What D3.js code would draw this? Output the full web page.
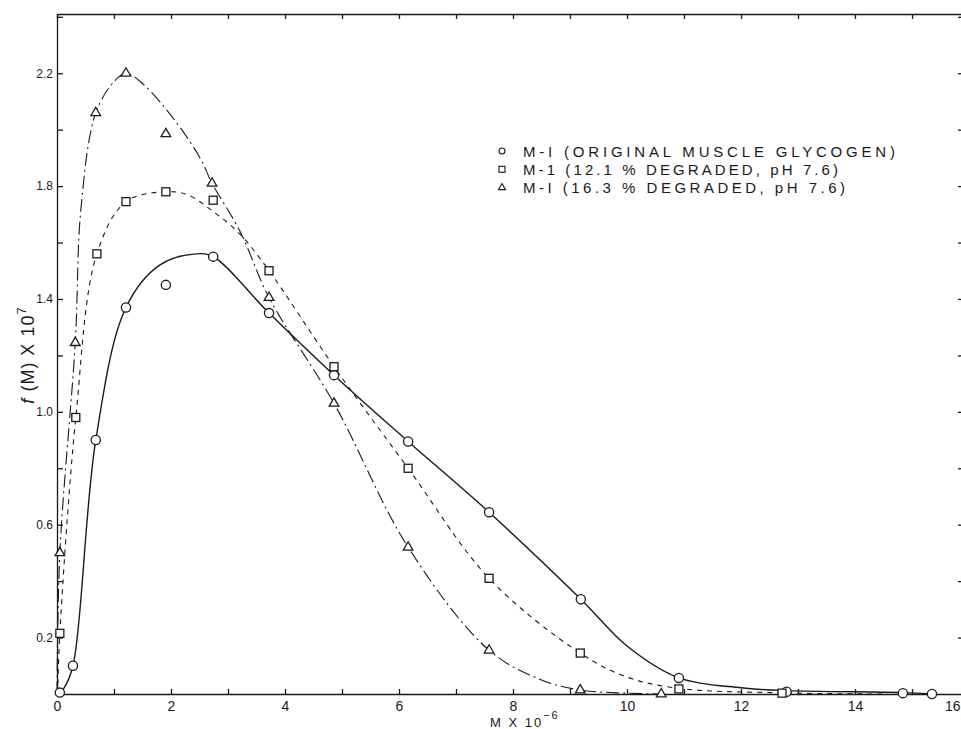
<!DOCTYPE html>
<html>
<head>
<meta charset="utf-8">
<script src="https://cdn.jsdelivr.net/npm/d3@7"></script>
<style>
  body { margin: 0; background: #fff; }
  text { font-family: 'Liberation Sans', 'DejaVu Sans', sans-serif; fill: #1a1a1a; }
</style>
</head>
<body>
<script>
// measured points, M x 10^-6 and f(M) x 10^7
const origM = [0.05, 0.28, 0.68, 1.21, 1.91, 2.74, 3.72, 4.86, 6.16, 7.58, 9.19, 10.91, 12.8, 14.84, 15.35]
const origF = [0.005, 0.10, 0.90, 1.37, 1.45, 1.55, 1.35, 1.13, 0.895, 0.644, 0.336, 0.057, 0.008, 0.003, 0.0]

const deg121M = [0.05, 0.33, 0.70, 1.21, 1.91, 2.74, 3.72, 4.86, 6.16, 7.58, 9.18, 10.91, 12.72]
const deg121F = [0.215, 0.98, 1.56, 1.745, 1.78, 1.75, 1.50, 1.16, 0.80, 0.41, 0.145, 0.018, 0.003]

const deg163M = [0.05, 0.32, 0.68, 1.21, 1.91, 2.72, 3.72, 4.86, 6.16, 7.58, 9.18, 10.6]
const deg163F = [0.50, 1.245, 2.06, 2.20, 1.985, 1.81, 1.405, 1.03, 0.52, 0.155, 0.014, 0.0]

// hand drawn curves
const origCurve = [[0.02, 0], [0.12, 0.02], [0.28, 0.10], [0.68, 0.90], [1.21, 1.37], [1.8, 1.52], [2.45, 1.56],
  [2.74, 1.55], [3.72, 1.35], [4.86, 1.13], [6.16, 0.895], [7.58, 0.644], [9.19, 0.336], [10.0, 0.17],
  [10.91, 0.057], [12.0, 0.022], [12.8, 0.012], [14.84, 0.005], [15.35, 0]]
const deg121Curve = [[0.01, 0], [0.05, 0.215], [0.33, 0.98], [0.70, 1.56], [1.21, 1.745], [1.91, 1.78],
  [2.28, 1.77], [2.74, 1.71], [3.21, 1.63], [3.72, 1.50], [4.86, 1.16], [6.16, 0.80], [7.58, 0.41],
  [9.18, 0.145], [10.0, 0.06], [10.91, 0.02], [12.72, 0.004], [14.5, 0]]
const deg163Curve = [[0.0, 0], [0.05, 0.50], [0.32, 1.245], [0.42, 1.72], [0.68, 2.06], [1.0, 2.17], [1.21, 2.20],
  [1.52, 2.16], [2.04, 2.04], [2.51, 1.90], [2.72, 1.81], [3.21, 1.64], [3.72, 1.405], [4.86, 1.03],
  [6.16, 0.52], [7.58, 0.155], [8.5, 0.05], [9.18, 0.014], [10.6, 0]]

const xTickLabels = [0, 2, 4, 6, 8, 10, 12, 14, 16]
const yTickLabels = [0.2, 0.6, 1.0, 1.4, 1.8, 2.2]
const legendLabels = ['M-I (ORIGINAL MUSCLE GLYCOGEN)', 'M-1 (12.1 % DEGRADED, pH 7.6)', 'M-I (16.3 % DEGRADED, pH 7.6)']

function render() {
  const width = 961, height = 729
  const ink = '#1a1a1a'

  const svg = d3.select('body')
    .append('svg')
    .attr('width', width)
    .attr('height', height)

  const x = d3.scaleLinear().domain([0, 16]).range([57, 969])
  const y = d3.scaleLinear().domain([0, 2.41]).range([694, 14])

  const styleAxis = g => {
    g.selectAll('path, line').attr('stroke', ink).attr('stroke-width', 1.3)
    g.selectAll('text').attr('fill', ink)
  }

  // bottom axis, ticks point inward
  const bottom = svg.append('g')
    .attr('transform', `translate(0, ${y(0)})`)
    .call(d3.axisBottom(x)
      .tickValues(d3.range(0, 17))
      .tickSize(-5)
      .tickSizeOuter(0)
      .tickPadding(7)
      .tickFormat(d => xTickLabels.includes(d) ? d : ''))
    .call(styleAxis)
  bottom.selectAll('text')
    .style('font-size', '14px')
  // last label sits on the page edge, keep it inside
  bottom.selectAll('.tick')
    .filter(d => x(d) > width - 10)
    .select('text')
    .attr('text-anchor', 'end')
    .attr('x', width - x(16) - 1)

  // top frame
  svg.append('g')
    .attr('transform', `translate(0, ${y(2.41)})`)
    .call(d3.axisTop(x)
      .tickValues(d3.range(0, 17))
      .tickSize(-5)
      .tickSizeOuter(0)
      .tickFormat(''))
    .call(styleAxis)

  // left axis
  svg.append('g')
    .attr('transform', `translate(${x(0)}, 0)`)
    .call(d3.axisLeft(y)
      .tickValues(d3.range(1, 13).map(i => i * 0.2))
      .tickSize(-6)
      .tickSizeOuter(0)
      .tickPadding(4)
      .tickFormat(d => yTickLabels.some(v => Math.abs(v - d) < 1e-6) ? d3.format('.1f')(d) : ''))
    .call(styleAxis)
    .selectAll('text')
    .style('font-size', '12px')

  // right edge ticks (frame is cut off by the page)
  const right = svg.append('g')
    .attr('transform', `translate(${width}, 0)`)
    .call(d3.axisRight(y)
      .tickValues(d3.range(1, 13).map(i => i * 0.2))
      .tickSize(-3)
      .tickFormat(''))
    .call(styleAxis)
  right.select('.domain').remove()

  const line = d3.line()
    .x(d => x(d[0]))
    .y(d => y(d[1]))
    .curve(d3.curveCatmullRom.alpha(0.5))

  const curves = [
    { data: origCurve, dash: null, w: 1.4 },
    { data: deg121Curve, dash: '5,5', w: 1.1 },
    { data: deg163Curve, dash: '13,4,2,4', w: 1.1 }
  ]

  svg.append('g')
    .selectAll('path')
    .data(curves)
    .enter()
    .append('path')
    .attr('d', d => line(d.data))
    .attr('fill', 'none')
    .attr('stroke', ink)
    .attr('stroke-width', d => d.w)
    .attr('stroke-dasharray', d => d.dash)

  // markers
  svg.append('g')
    .selectAll('circle')
    .data(d3.zip(origM, origF))
    .enter()
    .append('circle')
    .attr('cx', d => x(d[0]))
    .attr('cy', d => y(d[1]))
    .attr('r', 4.6)
    .attr('fill', '#fff')
    .attr('stroke', ink)
    .attr('stroke-width', 1.3)

  svg.append('g')
    .selectAll('rect')
    .data(d3.zip(deg121M, deg121F))
    .enter()
    .append('rect')
    .attr('x', d => x(d[0]) - 4)
    .attr('y', d => y(d[1]) - 4)
    .attr('width', 8)
    .attr('height', 8)
    .attr('fill', '#fff')
    .attr('stroke', ink)
    .attr('stroke-width', 1.3)

  const tri = d3.symbol().type(d3.symbolTriangle).size(40)
  svg.append('g')
    .selectAll('path')
    .data(d3.zip(deg163M, deg163F))
    .enter()
    .append('path')
    .attr('d', tri)
    .attr('transform', d => `translate(${x(d[0])}, ${y(d[1])})`)
    .attr('fill', '#fff')
    .attr('stroke', ink)
    .attr('stroke-width', 1.3)

  // legend
  const legend = svg.append('g').attr('transform', 'translate(502, 151)')
  const rowH = 18.3
  const textLens = [372, 315, 322]

  legend.append('circle').attr('cx', 0).attr('cy', 0).attr('r', 3)
    .attr('fill', 'none').attr('stroke', ink).attr('stroke-width', 1.1)
  legend.append('rect').attr('x', -3).attr('y', rowH - 3).attr('width', 6).attr('height', 6)
    .attr('fill', 'none').attr('stroke', ink).attr('stroke-width', 1.1)
  legend.append('path').attr('d', d3.symbol().type(d3.symbolTriangle).size(22))
    .attr('transform', `translate(0, ${rowH * 2})`)
    .attr('fill', 'none').attr('stroke', ink).attr('stroke-width', 1.1)

  legend.selectAll('text')
    .data(legendLabels)
    .enter()
    .append('text')
    .attr('x', 21)
    .attr('y', (d, i) => i * rowH + 5.5)
    .attr('textLength', (d, i) => textLens[i])
    .attr('lengthAdjust', 'spacing')
    .style('font-size', '15px')
    .text(d => d)

  // axis titles
  const xTitle = svg.append('text')
    .attr('x', 490)
    .attr('y', 727)
    .style('font-size', '13px')
    .style('letter-spacing', '2px')
  xTitle.append('tspan').text('M X 10')
  xTitle.append('tspan').attr('dy', -8).style('font-size', '11px').text('−6')

  const yTitle = svg.append('text')
    .attr('transform', 'translate(34, 355) rotate(-90)')
    .attr('text-anchor', 'middle')
    .style('font-size', '18px')
    .style('letter-spacing', '1px')
  yTitle.append('tspan').style('font-style', 'italic').text('f')
  yTitle.append('tspan').text(' (M) X 10')
  yTitle.append('tspan').attr('dy', -8).style('font-size', '13px').text('7')
}

render()
</script>
</body>
</html>
